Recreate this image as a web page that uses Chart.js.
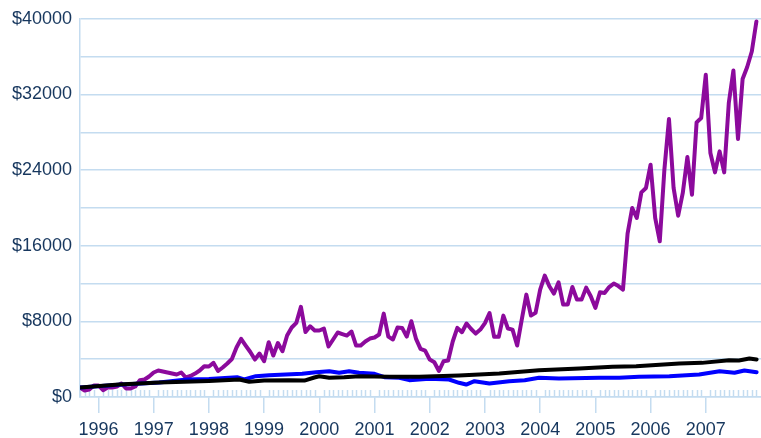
<!DOCTYPE html>
<html>
<head>
<meta charset="utf-8">
<script src="https://cdn.jsdelivr.net/npm/chart.js@4.4.0/dist/chart.umd.min.js"></script>
<style>
    body { margin: 0; background: #fff; }
    #wrap { width: 761px; height: 438px; }
</style>
</head>
<body>
<div id="wrap"><canvas id="Chart1" width="761" height="438"></canvas></div>
<script>
// monthly series, first value = Sep 1995
var startYear = 1995;
var startMonth = 8; // 0-based, Sep
var purpleValues = [
    1000, 690, 790, 1220, 1220, 720, 1000, 1000, 1110, 1430,
    900, 900, 1110, 1780, 1850, 2170, 2590, 2800, 2700, 2590,
    2480, 2380, 2590, 2060, 2220, 2480, 2800, 3260, 3220, 3610,
    2750, 3120, 3540, 4020, 5230, 6150, 5440, 4760, 3960, 4600,
    3780, 5790, 4390, 5710, 4840, 6500, 7350, 7840, 9530, 6870,
    7480, 7030, 7030, 7240, 5340, 6080, 6820, 6660, 6500, 6920,
    5440, 5440, 5870, 6180, 6290, 6610, 8820, 6390, 6080, 7350,
    7310, 6390, 8010, 6180, 5090, 4910, 3960, 3680, 2750, 3780,
    3860, 5870, 7310, 6850, 7770, 7190, 6710, 7130, 7820, 8880,
    6360, 6360, 8610, 7240, 7130, 5440, 8190, 10830, 8610, 8900,
    11360, 12840, 11710, 10940, 12130, 9780, 9780, 11630, 10300, 10300,
    11570, 10650, 9430, 11080, 11010, 11630, 12000, 11730, 11360, 17280,
    19990, 18940, 21640, 22110, 24570, 18940, 16470, 24040, 29400, 22110,
    19180, 21580, 25380, 21400, 29040, 29510, 34080, 25810, 23760, 25980,
    23760, 31090, 34540, 27290, 33630, 34900, 36540, 39720
];

// black and blue read at their turning points (decimal year, value)
var blackDates = [1995.67, 1996.37, 1997.10, 1998.00, 1998.55, 1998.73, 1999.00, 1999.45, 1999.73, 1999.91,
    2000.00, 2000.18, 2000.45, 2000.72, 2001.27, 2001.81, 2002.53, 2003.26, 2003.98, 2004.71,
    2005.31, 2005.74, 2006.52, 2006.93, 2007.42, 2007.60, 2007.79, 2007.92];
var blackValues = [1000, 1320, 1530, 1690, 1850, 1610, 1740, 1780, 1740, 2060,
    2200, 2030, 2090, 2200, 2130, 2130, 2270, 2480, 2830, 3010,
    3190, 3250, 3540, 3610, 3890, 3860, 4070, 3960];

var blueDates = [1995.67, 1996.37, 1997.10, 1997.60, 1998.00, 1998.51, 1998.64, 1998.85, 1999.09, 1999.39,
    1999.69, 1999.94, 2000.18, 2000.36, 2000.54, 2000.72, 2001.00, 2001.18, 2001.45, 2001.63,
    2001.99, 2002.35, 2002.53, 2002.66, 2002.81, 2003.08, 2003.44, 2003.72, 2003.98, 2004.34,
    2005.07, 2005.43, 2005.79, 2006.34, 2006.88, 2007.25, 2007.52, 2007.70, 2007.92];
var blueValues = [1000, 1300, 1530, 1850, 1900, 2090, 1850, 2200, 2300, 2380,
    2450, 2620, 2730, 2560, 2730, 2560, 2450, 2100, 2030, 1780,
    1920, 1850, 1500, 1320, 1670, 1430, 1670, 1780, 2030, 1950,
    2030, 2030, 2130, 2200, 2380, 2730, 2560, 2800, 2620];

var yearTicks = [1996, 1997, 1998, 1999, 2000, 2001, 2002, 2003, 2004, 2005, 2006, 2007];
var yGridValues = [0, 4000, 8000, 12000, 16000, 20000, 24000, 28000, 32000, 36000, 40000];
var yLabelValues = [0, 8000, 16000, 24000, 32000, 40000];

var gridColor = '#c4dcf0';
var textColor = '#17375e';
var tickFont = { family: 'Liberation Sans, Arial, sans-serif', size: 18 };

function monthPos(i) {
    return startYear + (startMonth + i) / 12;
}

var purpleData = purpleValues.map(function (v, i) { return { x: monthPos(i), y: v }; });
var blackData = blackDates.map(function (d, i) { return { x: d, y: blackValues[i] }; });
var blueData = blueDates.map(function (d, i) { return { x: d, y: blueValues[i] }; });

// short monthly marks standing up from the x axis
var minorTicks = {
    id: 'minorTicks',
    beforeDatasetsDraw: function (chart) {
        var ctx = chart.ctx;
        var xs = chart.scales.x;
        var bottom = chart.chartArea.bottom;
        ctx.save();
        ctx.strokeStyle = gridColor;
        ctx.lineWidth = 1.5;
        for (var i = 0; i < purpleValues.length + 1; i++) {
            if ((startMonth + i) % 12 === 0) continue;
            var px = Math.round(xs.getPixelForValue(monthPos(i))) + 0.5;
            ctx.beginPath();
            ctx.moveTo(px, bottom);
            ctx.lineTo(px, bottom - 7);
            ctx.stroke();
        }
        ctx.restore();
    }
};

var ctx1 = document.getElementById('Chart1');
var Chart1 = new Chart(ctx1, {
    type: 'line',
    data: {
        datasets: [{
            label: 'black',
            data: blackData,
            borderColor: '#000000',
            borderWidth: 4,
        }, {
            label: 'blue',
            data: blueData,
            borderColor: '#0000ff',
            borderWidth: 4,
        }, {
            label: 'purple',
            data: purpleData,
            borderColor: '#8c0a9c',
            borderWidth: 4,
        }]
    },
    options: {
        responsive: false,
        animation: false,
        devicePixelRatio: 1,
        layout: { padding: { left: 4, top: 10, right: 0, bottom: 0 } },
        elements: {
            point: { radius: 0 },
            line: { tension: 0, borderJoinStyle: 'round', borderCapStyle: 'round' }
        },
        plugins: {
            legend: { display: false },
            tooltip: { enabled: false }
        },
        scales: {
            x: {
                type: 'linear',
                min: monthPos(0),
                max: 2008,
                afterBuildTicks: function (scale) {
                    scale.ticks = yearTicks.map(function (v) { return { value: v }; });
                },
                afterFit: function (scale) {
                    scale.height = 41;
                },
                grid: { drawOnChartArea: false, tickLength: 16, color: gridColor, lineWidth: 1.5 },
                border: { color: gridColor, width: 1.5 },
                ticks: {
                    autoSkip: false,
                    maxRotation: 0,
                    padding: 6,
                    color: textColor,
                    font: tickFont,
                    callback: function (value) { return String(value); }
                }
            },
            y: {
                min: 0,
                max: 40000,
                afterBuildTicks: function (scale) {
                    scale.ticks = yGridValues.map(function (v) { return { value: v }; });
                },
                grid: { color: gridColor, lineWidth: 1.5, drawTicks: false },
                border: { color: gridColor, width: 1.5 },
                ticks: {
                    padding: 8,
                    color: textColor,
                    font: tickFont,
                    callback: function (value) {
                        return yLabelValues.indexOf(value) >= 0 ? '$' + value : '';
                    }
                }
            }
        }
    },
    plugins: [minorTicks]
});
</script>
</body>
</html>
